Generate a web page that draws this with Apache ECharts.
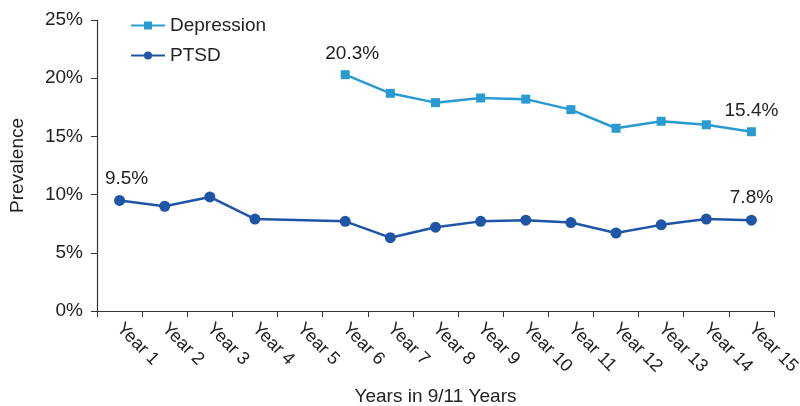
<!DOCTYPE html>
<html><head><meta charset="utf-8">
<script src="https://cdn.jsdelivr.net/npm/echarts@6/dist/echarts.min.js"></script>
<style>html,body{margin:0;padding:0;background:#fff}#c{width:800px;height:406px}</style>
</head><body><div id="c"></div>
<script>
const categories = ['Year 1','Year 2','Year 3','Year 4','Year 5','Year 6','Year 7','Year 8','Year 9','Year 10','Year 11','Year 12','Year 13','Year 14','Year 15'];
const depression = [null,null,null,null,null,20.3,18.7,17.9,18.3,18.2,17.3,15.7,16.3,16.0,15.4];
const ptsd = [9.5,9.0,9.8,7.9,null,7.7,6.3,7.2,7.7,7.8,7.6,6.7,7.4,7.9,7.8];
const depressionLabelIdx = [5,14];
const ptsdLabelIdx = [0,14];
const yTicks = [0,5,10,15,20,25];

const FONT = 'Liberation Sans, Arial, sans-serif';
const FS = 19;
function build(vals, idx){
  return vals.map((v,i)=>{
    if(v===null) return '-';
    if(idx.includes(i)) return {value:v,label:{show:true,position:'top',distance:7,offset:[i===idx[0]?7:0,0],formatter:p=>p.value.toFixed(1)+'%',fontSize:FS,color:'#222',fontFamily:FONT}};
    return v;
  });
}
const chart = echarts.init(document.getElementById('c'));
chart.setOption({
  animation:false,
  textStyle:{fontFamily:FONT},
  legend:{
    orient:'vertical', left:125, top:11, itemWidth:34, itemHeight:10, itemGap:11,
    textStyle:{fontSize:FS,color:'#222',fontFamily:FONT},
    data:['Depression','PTSD']
  },
  grid:{left:97,right:26,top:20,bottom:95,containLabel:false,outerBoundsMode:'none'},
  xAxis:{
    type:'category', data:categories, boundaryGap:true,
    name:'Years in 9/11 Years', nameLocation:'middle', nameGap:76,
    nameTextStyle:{fontSize:FS,color:'#222',fontFamily:FONT},
    axisLine:{lineStyle:{color:'#333',width:1.2}},
    axisTick:{show:true,alignWithLabel:false,length:6,lineStyle:{color:'#333'}},
    axisLabel:{rotate:-45,fontSize:18,color:'#222',margin:15,interval:0,fontFamily:FONT}
  },
  yAxis:{
    type:'value', min:yTicks[0], max:yTicks[yTicks.length-1], interval:5,
    name:'Prevalence', nameLocation:'middle', nameGap:70,
    nameTextStyle:{fontSize:FS,color:'#222',fontFamily:FONT},
    axisLine:{show:true,lineStyle:{color:'#333',width:1.2}},
    axisTick:{show:true,length:6,lineStyle:{color:'#333'}},
    splitLine:{show:false},
    axisLabel:{formatter:v=>v+'%',fontSize:FS,color:'#222',margin:14,fontFamily:FONT}
  },
  series:[
    {name:'Depression',type:'line',data:build(depression,depressionLabelIdx),connectNulls:true,
     symbol:'rect',symbolSize:9,itemStyle:{color:'#2a9bd1'},lineStyle:{width:2.5,color:'#2a9bd1'}},
    {name:'PTSD',type:'line',data:build(ptsd,ptsdLabelIdx),connectNulls:true,
     symbol:'circle',symbolSize:11,itemStyle:{color:'#1f55a6'},lineStyle:{width:2.5,color:'#1f55a6'}}
  ]
});
</script></body></html>
